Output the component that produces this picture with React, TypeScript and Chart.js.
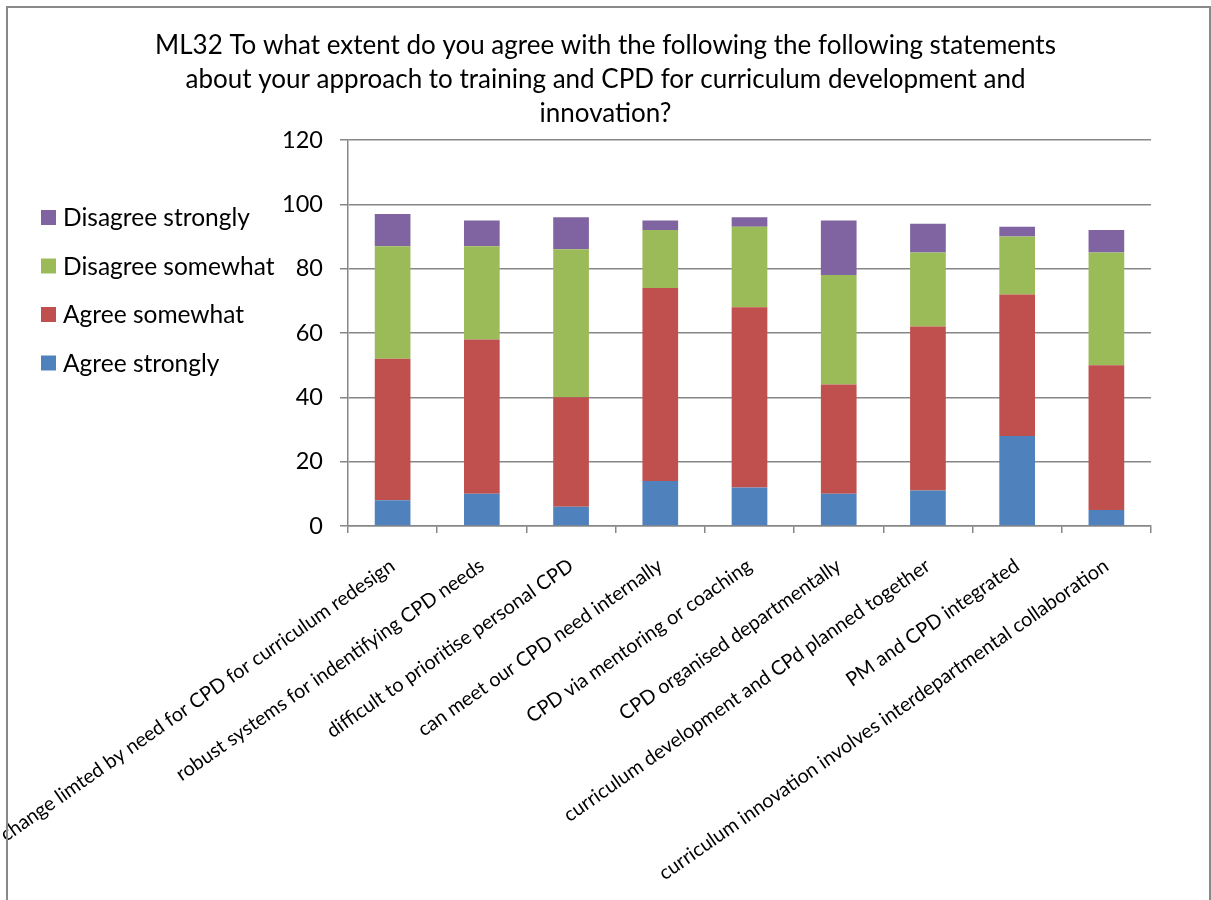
import React, { useEffect, useRef } from "react";
import { Chart, registerables } from "chart.js";

Chart.register(...registerables);

// Survey statements (x categories)
const categories = [
  "change limted by need for CPD for curriculum redesign",
  "robust systems for indentifying CPD needs",
  "difficult to prioritise personal CPD",
  "can meet our CPD need internally",
  "CPD via mentoring or coaching",
  "CPD organised departmentally",
  "curriculum development and CPd planned together",
  "PM and CPD integrated",
  "curriculum innovation involves interdepartmental collaboration",
];

// Response counts per statement
const agreeStrongly = [8, 10, 6, 14, 12, 10, 11, 28, 5];
const agreeSomewhat = [44, 48, 34, 60, 56, 34, 51, 44, 45];
const disagreeSomewhat = [35, 29, 46, 18, 25, 34, 23, 18, 35];
const disagreeStrongly = [10, 8, 10, 3, 3, 17, 9, 3, 7];

const seriesNames = ["Agree strongly", "Agree somewhat", "Disagree somewhat", "Disagree strongly"];
const seriesColors = ["#4F81BD", "#C0504D", "#9BBB59", "#8064A2"];

const yTickValues = [0, 20, 40, 60, 80, 100, 120];

const titleLines = [
  "ML32 To what extent do you agree with the following the following statements",
  "about your approach to training and CPD for curriculum development and",
  "innovation?",
];

const FONT = "Lato, 'Open Sans', sans-serif";
const AXIS_GRAY = "#878787";

// Legend drawn in the left margin, top item = last series
const sideLegend = {
  id: "sideLegend",
  afterDraw(chart: any) {
    const ctx = chart.ctx;
    const items = chart.data.datasets
      .map((d: any) => ({ label: d.label, color: d.backgroundColor }))
      .reverse();
    ctx.save();
    ctx.font = `24.5px ${FONT}`;
    ctx.textBaseline = "middle";
    ctx.textAlign = "left";
    items.forEach((it: any, i: number) => {
      const cy = 217.5 + i * 48.5;
      ctx.fillStyle = it.color;
      ctx.fillRect(41, cy - 7.5, 15, 15);
      ctx.fillStyle = "#000";
      ctx.fillText(it.label, 63, cy + 1);
    });
    ctx.restore();
  },
};

export default function App() {
  const canvasRef = useRef<HTMLCanvasElement | null>(null);

  useEffect(() => {
    if (!canvasRef.current) return;
    const values = [agreeStrongly, agreeSomewhat, disagreeSomewhat, disagreeStrongly];
    const chart = new Chart(canvasRef.current, {
      type: "bar",
      data: {
        labels: categories,
        datasets: values.map((v, i) => ({
          label: seriesNames[i],
          data: v,
          backgroundColor: seriesColors[i],
          borderWidth: 0,
          categoryPercentage: 1,
          barPercentage: 0.4,
        })),
      },
      plugins: [sideLegend],
      options: {
        animation: false,
        responsive: false,
        layout: { padding: 0 },
        plugins: {
          legend: { display: false },
          tooltip: { enabled: false },
          title: {
            display: true,
            text: titleLines,
            color: "#000",
            font: { family: FONT, size: 26, weight: "normal", lineHeight: "34px" } as any,
            padding: { top: 29, bottom: 9 },
          },
        },
        scales: {
          x: {
            stacked: true,
            grid: {
              drawOnChartArea: false,
              drawTicks: true,
              tickLength: 7,
              color: AXIS_GRAY,
              lineWidth: 1.5,
            },
            border: { color: AXIS_GRAY, width: 1.5 },
            ticks: {
              minRotation: 35,
              maxRotation: 35,
              autoSkip: false,
              padding: 21,
              color: "#000",
              font: { family: FONT, size: 19.8 },
            },
            afterFit(scale: any) {
              scale.height = 374;
              scale.paddingLeft = 0;
              scale.paddingRight = 60;
            },
          },
          y: {
            stacked: true,
            min: 0,
            max: 120,
            afterBuildTicks(scale: any) {
              scale.ticks = yTickValues.map((v) => ({ value: v }));
            },
            ticks: {
              padding: 17,
              color: "#000",
              font: { family: FONT, size: 23.5 },
            },
            grid: { color: AXIS_GRAY, lineWidth: 1.5, tickLength: 8 },
            border: { color: AXIS_GRAY, width: 1.5 },
            afterFit(scale: any) {
              scale.width = 348;
            },
          },
        },
      },
    });
    return () => chart.destroy();
  }, []);

  return (
    <div style={{ position: "absolute", left: 0, top: 0, width: 1211, height: 900, overflow: "hidden", background: "#fff" }}>
      <canvas ref={canvasRef} width={1211} height={900} style={{ display: "block" }} />
      <div
        style={{
          position: "absolute",
          left: 6,
          top: 6,
          width: 1205,
          height: 894,
          boxSizing: "border-box",
          borderLeft: "2px solid #898989",
          borderTop: "2px solid #898989",
          borderRight: "2px solid #898989",
          pointerEvents: "none",
        }}
      />
    </div>
  );
}
